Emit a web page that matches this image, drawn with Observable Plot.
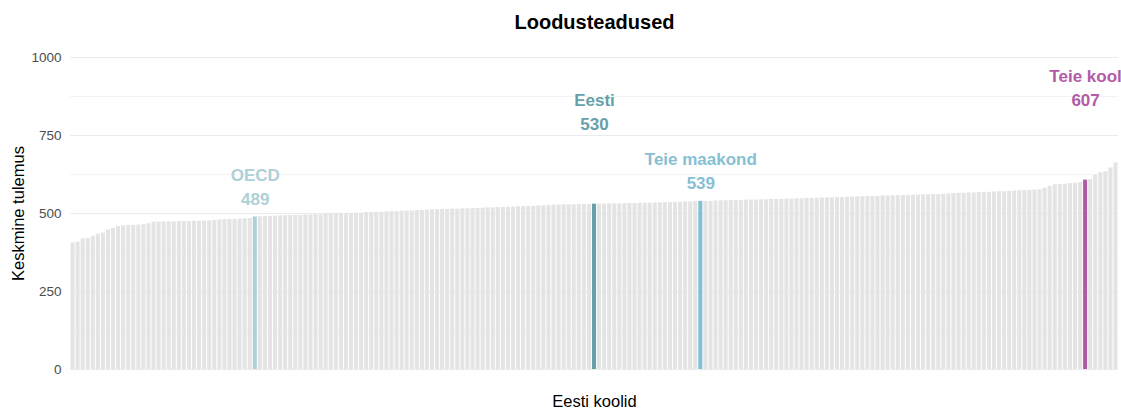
<!DOCTYPE html>
<html><head><meta charset="utf-8">
<script src="https://cdn.jsdelivr.net/npm/d3@7"></script>
<script src="https://cdn.jsdelivr.net/npm/@observablehq/plot@0.6"></script>
<style>body{margin:0;background:#fff;} svg{display:block;overflow:hidden;}</style>
</head><body><div id="chart"></div>
<script>
const title = "Loodusteadused";
const yLabel = "Keskmine tulemus";
const xLabel = "Eesti koolid";
const yTicks = [0, 250, 500, 750, 1000];
const yMinor = [125, 375, 625, 875];

// other Estonian schools (mean score)
const schoolScores = [
  406,408,419,420,426,434,437,447,452,458,461,462,462,463,464,467,472,472,473,473,
  473,474,474,474,475,475,476,476,478,479,480,481,481,482,483,484,
  490,490,491,491,492,493,494,494,494,495,495,496,496,498,499,499,499,500,500,501,501,
  503,503,504,504,505,506,506,507,508,508,509,510,511,512,512,513,513,514,514,515,515,
  516,516,517,518,518,519,519,520,521,522,522,523,523,524,525,526,
  527,527,528,528,528,529,529,529,
  530,530,531,531,531,532,532,532,533,533,533,534,534,535,535,536,536,537,537,538,
  539,539,540,541,541,542,542,542,543,543,543,544,544,545,545,545,546,546,
  547,547,548,548,549,550,550,550,551,551,552,553,553,554,554,554,
  555,556,556,557,557,558,558,559,559,560,560,561,561,562,563,
  564,565,565,566,566,567,567,568,569,570,570,571,572,573,574,574,575,576,
  581,587,592,593,594,596,597,599,
  609,623,631,634,646,662
];

// reference bars
const refNames = ["OECD", "Eesti", "Teie maakond", "Teie kool"];
const refScores = [489, 530, 539, 607];
const refColors = ["#aed0d6", "#66a0a8", "#86bfd3", "#b25aa6"];
const refRaised = [false, true, false, true];

const barGray = "#e4e4e4";
const font = "'Liberation Sans', Arial, sans-serif";

const rows = schoolScores.map(v => ({value: v, ref: -1}))
  .concat(refScores.map((v, j) => ({value: v, ref: j})));
rows.sort((a, b) => (a.value - b.value) || ((b.ref >= 0) - (a.ref >= 0)));
rows.forEach((d, i) => d.idx = i);
const refs = rows.filter(d => d.ref >= 0).map(d => ({
  idx: d.idx, value: d.value, name: refNames[d.ref], color: refColors[d.ref], raised: refRaised[d.ref]
}));

const chart = Plot.plot({
  width: 1121,
  height: 411,
  marginTop: 57,
  marginBottom: 42,
  marginLeft: 70,
  marginRight: 3,
  style: {fontFamily: font, fontSize: "13px", color: "#4d4d4d", background: "#fff", overflow: "hidden"},
  x: {type: "band", domain: rows.map(d => d.idx), paddingInner: 0.2, paddingOuter: 0.1, round: false, axis: null},
  y: {domain: [0, 1000], axis: null},
  marks: [
    Plot.ruleY(yMinor, {stroke: "#f3f3f3", strokeWidth: 1}),
    Plot.ruleY(yTicks, {stroke: "#ebebeb", strokeWidth: 1}),
    Plot.axisY(yTicks, {tickSize: 0, tickPadding: 9, tickFormat: d => String(d), fontSize: 13.5,
      fill: "#4d4d4d", label: null}),
    Plot.barY(rows, {x: "idx", y: "value", fill: d => d.ref >= 0 ? refColors[d.ref] : barGray}),
    Plot.text(refs, {x: "idx", y: d => d.value + (d.raised ? 332 : 133), text: "name",
      fill: "color", fontSize: 17, fontWeight: "bold", textAnchor: "middle", lineAnchor: "middle"}),
    Plot.text(refs, {x: "idx", y: d => d.value + (d.raised ? 255 : 56), text: d => String(d.value),
      fill: "color", fontSize: 17, fontWeight: "bold", textAnchor: "middle", lineAnchor: "middle"}),
    Plot.text([title], {frameAnchor: "top", dy: -35, fontSize: 20, fontWeight: "bold", fill: "#000",
      textAnchor: "middle", lineAnchor: "middle"}),
    Plot.text([yLabel], {frameAnchor: "left", dx: -52, rotate: -90, fontSize: 16.5, fill: "#000",
      textAnchor: "middle", lineAnchor: "middle"}),
    Plot.text([xLabel], {frameAnchor: "bottom", dy: 32, fontSize: 16.5, fill: "#000",
      textAnchor: "middle", lineAnchor: "middle"})
  ]
});
document.getElementById("chart").appendChild(chart);
</script>
</body></html>
